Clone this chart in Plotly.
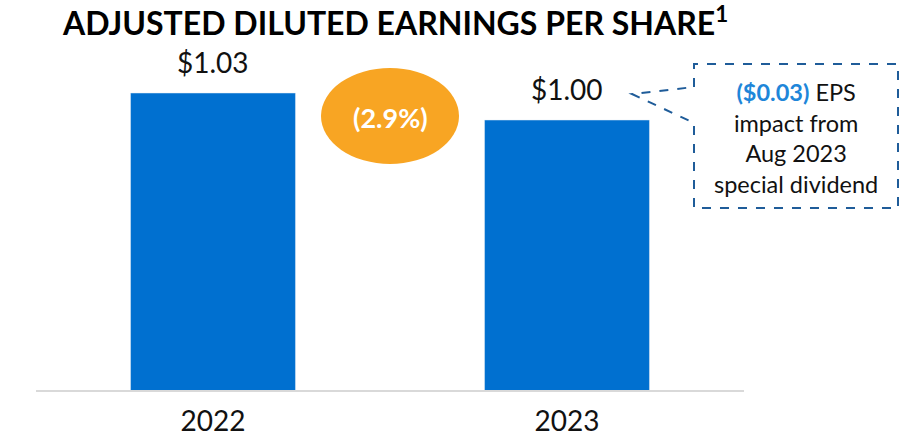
import plotly.graph_objects as go

years = ["2022", "2023"]
eps = [1.03, 1.00]
eps_labels = ["$1.03", "$1.00"]
change_label = "(2.9%)"
title_text = "ADJUSTED DILUTED EARNINGS PER SHARE<sup>1</sup>"
callout_lines = ["<b><span style='color:#1E86D9'>($0.03)</span></b> EPS", "impact from", "Aug 2023", "special dividend"]

W, H = 900, 438
L, R, T, B = 36, 156, 50, 48
PW, PH = W - L - R, H - T - B
FONT = "Lato"

def px(x):
    return (x - L) / PW

def py(y):
    return (H - B - y) / PH

fig = go.Figure()
fig.add_trace(go.Bar(x=years, y=eps, marker_color="#0070D0", width=0.466, hoverinfo="skip"))

for i, (v, lab) in enumerate(zip(eps, eps_labels)):
    fig.add_annotation(x=i, y=v, text=lab, showarrow=False, xanchor="center", yanchor="bottom", yshift=12,
                       font=dict(family=FONT, size=28, color="#111111"))

# change bubble
fig.add_shape(type="circle", xref="paper", yref="paper", x0=px(321), x1=px(459), y0=py(164), y1=py(68),
              fillcolor="#F8A523", line=dict(width=0))
fig.add_annotation(xref="paper", yref="paper", x=px(390), y=py(118), text="<b>" + change_label + "</b>",
                   showarrow=False, xanchor="center", yanchor="middle",
                   font=dict(family=FONT, size=27, color="white"))

# callout
pts = [(694, 87), (694, 64), (898, 64), (898, 208), (694, 208), (694, 123), (632, 94), (694, 87)]
path = "M " + " L ".join(f"{px(a):.5f},{py(b):.5f}" for a, b in pts)
fig.add_shape(type="path", xref="paper", yref="paper", path=path,
              line=dict(color="#1F5C99", width=2, dash="dash"), fillcolor="rgba(0,0,0,0)")
fig.add_annotation(xref="paper", yref="paper", x=px(796), y=py(138), text="<br>".join(callout_lines),
                   showarrow=False, align="center", xanchor="center", yanchor="middle",
                   font=dict(family=FONT, size=23.5, color="#111111"))

fig.update_layout(
    width=W, height=H, margin=dict(l=L, r=R, t=T, b=B, autoexpand=False),
    paper_bgcolor="white", plot_bgcolor="white", showlegend=False,
    title=dict(text=title_text, x=63 / W, xanchor="left", xref="container", y=1 - 24 / H, yanchor="middle",
               font=dict(family=FONT, size=32, color="#000000", weight="bold")),
    bargap=0.534,
)
fig.update_xaxes(type="category", range=[-0.5, 1.5], showline=True, linecolor="#D9D9D9", linewidth=2,
                 ticks="outside", ticklen=5, tickcolor="rgba(0,0,0,0)",
                 tickfont=dict(family=FONT, size=28, color="#111111"),
                 automargin=False, showgrid=False, zeroline=False)
fig.update_yaxes(range=[0.70, 0.70 + PH / 900], visible=False, showgrid=False, zeroline=False, automargin=False)

fig.write_html("out.html", config={"displayModeBar": False},
               post_script="document.body.style.margin='0';")
